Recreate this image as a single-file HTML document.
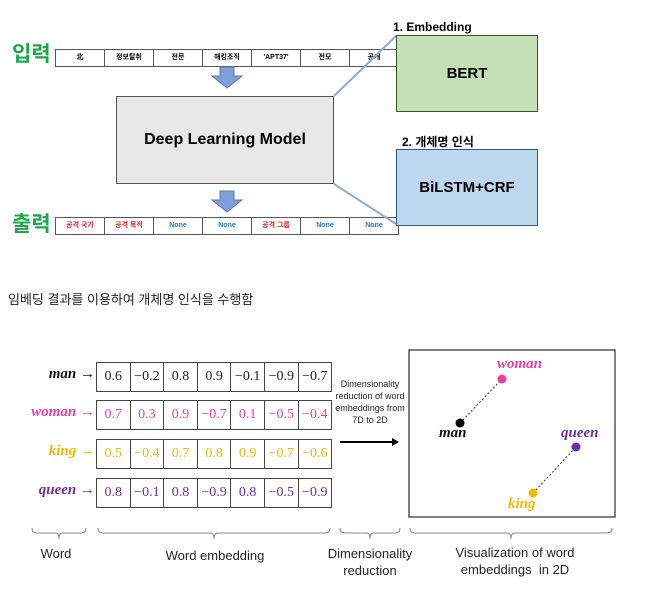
<!DOCTYPE html>
<html><head><meta charset="utf-8"><style>
body{margin:0;width:658px;height:600px;background:#fff;position:relative;overflow:hidden;font-family:"Liberation Sans","Noto Sans CJK KR",sans-serif}
.a{position:absolute}
.row{position:absolute;display:flex;border:1px solid #555;border-right:none}
.row div{border-right:1px solid #555;text-align:center;font-size:7px;font-weight:bold;box-sizing:border-box}
.e{position:absolute;display:flex;border:1px solid #444;border-right:none;height:28px}
.e div{width:33.6px;box-sizing:border-box;border-right:1px solid #444;font-family:"Liberation Serif",serif;font-size:14px;line-height:28px;text-align:center}
.w{position:absolute;right:563px;font-family:"Liberation Serif",serif;font-style:italic;font-weight:bold;font-size:15px;white-space:nowrap}
.lbl{position:absolute;font-size:13px;color:#222;text-align:center;line-height:17px}
.pl{position:absolute;font-family:'Liberation Serif',serif;font-style:italic;font-weight:bold;font-size:15px}
</style></head><body>
<div class="a" style="left:12px;top:38px;font-size:21px;font-weight:bold;color:#1aa84a">입력</div>
<div class="a" style="left:12px;top:208px;font-size:21px;font-weight:bold;color:#1aa84a">출력</div>
<div class="row" style="left:55px;top:49px;height:16px">
<div style="width:49px;line-height:16px">北</div><div style="width:49px;line-height:16px">정보탈취</div><div style="width:49px;line-height:16px">전문</div><div style="width:49px;line-height:16px">해킹조직</div><div style="width:49px;line-height:16px">'APT37'</div><div style="width:49px;line-height:16px">전모</div><div style="width:49px;line-height:16px">공개</div></div>
<div class="row" style="left:55px;top:217px;height:16px">
<div style="width:49px;line-height:16px;color:#e02020">공격 국가</div><div style="width:49px;line-height:16px;color:#e02020">공격 목적</div><div style="width:49px;line-height:16px;color:#1a78d0">None</div><div style="width:49px;line-height:16px;color:#1a78d0">None</div><div style="width:49px;line-height:16px;color:#e02020">공격 그룹</div><div style="width:49px;line-height:16px;color:#1a78d0">None</div><div style="width:49px;line-height:16px;color:#1a78d0">None</div></div>
<svg class="a" style="left:0;top:0" width="658" height="600">
<polygon points="220,67 234,67 234,76 242,76 227,88 212,76 220,76" fill="#7f9fd6" stroke="#5a7ab8"/>
<polygon points="220,191 234,191 234,200 242,200 227,212 212,200 220,200" fill="#7f9fd6" stroke="#5a7ab8"/>
<line x1="334" y1="96" x2="396" y2="36" stroke="#8eaadb" stroke-width="2"/>
<line x1="334" y1="184" x2="396" y2="224" stroke="#8eaadb" stroke-width="2"/>
<line x1="340" y1="442" x2="392" y2="442" stroke="#000" stroke-width="2"/>
<polygon points="392,438 399,442 392,446" fill="#000"/>
<rect x="409" y="350" width="206" height="167" fill="none" stroke="#555" stroke-width="1.5"/>
<line x1="460" y1="423" x2="502" y2="379" stroke="#333" stroke-dasharray="2,2"/>
<line x1="533" y1="493" x2="576" y2="447" stroke="#333" stroke-dasharray="2,2"/>
<circle cx="502" cy="379" r="4.5" fill="#f03ca8"/><circle cx="460" cy="423" r="4.5" fill="#000"/>
<circle cx="576" cy="447" r="4.5" fill="#6b2fa0"/><circle cx="533" cy="493" r="4.5" fill="#f5b800"/>
<g fill="none" stroke="#888" stroke-width="1">
<path d="M32,528 q0,5 5,5 h19 q3,0 3,6 q0,-6 3,-6 h19 q5,0 5,-5"/>
<path d="M98,528 q0,5 5,5 h107 q4,0 4,6 q0,-6 4,-6 h107 q5,0 5,-5"/>
<path d="M340,528 q0,5 5,5 h22 q3,0 3,6 q0,-6 3,-6 h22 q5,0 5,-5"/>
<path d="M410,528 q0,5 5,5 h92 q4,0 4,6 q0,-6 4,-6 h92 q5,0 5,-5"/>
</g>
</svg>
<div class="a" style="left:116px;top:96px;width:216px;height:86px;background:#e8e8e8;border:1.5px solid #555;font-size:16px;font-weight:bold;line-height:86px;text-align:center">Deep Learning Model</div>
<div class="a" style="left:393px;top:20px;font-size:12px;font-weight:bold">1. Embedding</div>
<div class="a" style="left:396px;top:35px;width:140px;height:75px;background:#c5e0b4;border:1.5px solid #385723;font-size:15px;font-weight:bold;line-height:75px;text-align:center">BERT</div>
<div class="a" style="left:402px;top:133px;font-size:12px;font-weight:bold">2. 개체명 인식</div>
<div class="a" style="left:396px;top:149px;width:140px;height:75px;background:#bdd7ee;border:1.5px solid #2e5a87;font-size:15px;font-weight:bold;line-height:75px;text-align:center">BiLSTM+CRF</div>
<div class="a" style="left:8px;top:289px;font-size:13px;color:#222">임베딩 결과를 이용하여 개체명 인식을 수행함</div>

<div class="w" style="top:366px;color:#111">man →</div>
<div class="w" style="top:404px;color:#f03ca8">woman →</div>
<div class="w" style="top:443px;color:#f5b800">king →</div>
<div class="w" style="top:482px;color:#6b2fa0">queen →</div>
<div class="e" style="left:96px;top:362px;color:#222"><div>0.6</div><div>−0.2</div><div>0.8</div><div>0.9</div><div>−0.1</div><div>−0.9</div><div>−0.7</div></div>
<div class="e" style="left:96px;top:400px;color:#f03ca8"><div>0.7</div><div>0.3</div><div>0.9</div><div>−0.7</div><div>0.1</div><div>−0.5</div><div>−0.4</div></div>
<div class="e" style="left:96px;top:439px;color:#f5b800"><div>0.5</div><div>−0.4</div><div>0.7</div><div>0.8</div><div>0.9</div><div>−0.7</div><div>−0.6</div></div>
<div class="e" style="left:96px;top:478px;color:#6b2fa0"><div>0.8</div><div>−0.1</div><div>0.8</div><div>−0.9</div><div>0.8</div><div>−0.5</div><div>−0.9</div></div>
<div class="lbl" style="left:334px;top:378px;width:72px;font-size:9px;line-height:12px">Dimensionality reduction of word embeddings from 7D to 2D</div>
<div class="pl" style="left:497px;top:356px;color:#f03ca8">woman</div>
<div class="pl" style="left:439px;top:425px;color:#111">man</div>
<div class="pl" style="left:561px;top:425px;color:#6b2fa0">queen</div>
<div class="pl" style="left:508px;top:496px;color:#f5b800">king</div>
<div class="lbl" style="left:20px;top:545px;width:72px">Word</div>
<div class="lbl" style="left:140px;top:547px;width:150px">Word embedding</div>
<div class="lbl" style="left:318px;top:545px;width:104px">Dimensionality<br>reduction</div>
<div class="lbl" style="left:430px;top:544px;width:170px">Visualization of word<br>embeddings&nbsp; in 2D</div>
</body></html>
